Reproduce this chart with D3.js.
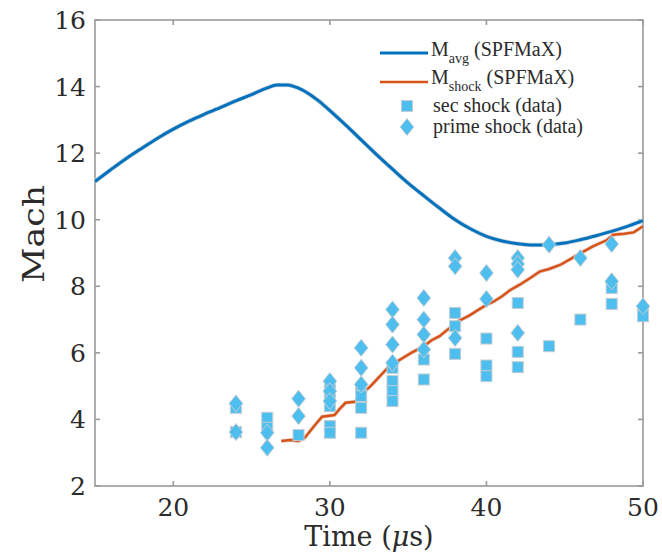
<!DOCTYPE html>
<html>
<head>
<meta charset="utf-8">
<script src="https://cdn.jsdelivr.net/npm/d3@7"></script>
<style>
  html, body { margin: 0; padding: 0; background: #fff; }
  svg { display: block; font-family: "DejaVu Serif", serif; }
</style>
</head>
<body>
<div id="chart"></div>
<script>
// M_avg (SPFMaX): smooth mean Mach number vs time (µs)
const avgTime = [15, 16, 17, 18, 19, 20, 21, 22, 23, 24, 25, 26, 26.6, 27.3, 28, 28.6, 29.2, 30, 31, 32, 33, 34, 35, 36, 37, 38, 39, 40, 41, 42, 43, 44, 45, 46, 47, 48, 49, 50];
const avgMach = [11.15, 11.5, 11.84, 12.15, 12.45, 12.72, 12.96, 13.17, 13.37, 13.57, 13.76, 13.96, 14.05, 14.05, 13.95, 13.8, 13.6, 13.28, 12.85, 12.4, 11.95, 11.52, 11.1, 10.72, 10.35, 10.0, 9.72, 9.5, 9.36, 9.28, 9.24, 9.25, 9.3, 9.4, 9.52, 9.65, 9.8, 9.97];

// M_shock (SPFMaX): jagged shock Mach number
const shockTime = [26.9, 27.5, 28.0, 28.4, 29.0, 29.5, 30.3, 30.6, 31.0, 31.6, 32.1, 32.6, 33.2, 33.8, 34.5, 35.2, 36.0, 36.5, 37.0, 37.5, 38.2, 38.9, 39.5, 40.0, 40.5, 41.0, 41.5, 42.1, 42.8, 43.4, 44.0, 44.7, 45.3, 46.0, 46.8, 47.7, 48.1, 48.8, 49.4, 50.0];
const shockMach = [3.35, 3.38, 3.35, 3.45, 3.8, 4.08, 4.13, 4.3, 4.5, 4.53, 4.79, 5.0, 5.3, 5.6, 5.8, 6.0, 6.2, 6.38, 6.5, 6.69, 6.95, 7.12, 7.3, 7.44, 7.55, 7.7, 7.88, 8.04, 8.25, 8.44, 8.52, 8.64, 8.8, 8.99, 9.2, 9.39, 9.55, 9.58, 9.62, 9.8];

// sec shock (data): squares
const secTime = [24, 24, 26, 26, 28, 30, 30, 30, 30, 30, 32, 32, 32, 32, 34, 34, 34, 34, 36, 36, 38, 38, 38, 40, 40, 40, 42, 42, 42, 44, 46, 48, 48, 50, 50];
const secMach = [4.35, 3.62, 4.05, 3.75, 3.53, 4.95, 4.7, 4.4, 3.8, 3.6, 4.95, 4.7, 4.35, 3.6, 5.55, 5.15, 4.85, 4.55, 5.8, 5.2, 7.2, 6.8, 5.97, 6.43, 5.62, 5.3, 7.5, 6.03, 5.57, 6.2, 7.0, 7.95, 7.47, 7.2, 7.1];

// prime shock (data): diamonds
const primeTime = [24, 24, 26, 26, 28, 28, 30, 30, 30, 32, 32, 32, 34, 34, 34, 34, 36, 36, 36, 36, 38, 38, 38, 40, 40, 42, 42, 42, 42, 44, 46, 48, 48, 50];
const primeMach = [4.48, 3.62, 3.6, 3.15, 4.62, 4.1, 5.15, 4.85, 4.55, 6.15, 5.55, 5.05, 7.3, 6.85, 6.25, 5.7, 7.65, 7.0, 6.55, 6.1, 8.85, 8.6, 6.45, 8.4, 7.62, 8.85, 8.67, 8.5, 6.6, 9.25, 8.85, 9.27, 8.15, 7.4];

const xTicks = [20, 30, 40, 50];
const yTicks = [2, 4, 6, 8, 10, 12, 14, 16];

const W = 662, H = 554;
const plot = { left: 95, right: 643, top: 20, bottom: 486 };

const BLUE = "#0072BD", ORANGE = "#D95319", CYAN = "#4DBEEE";
const AXIS = "#9a9a9a", TEXT = "#2b2b2b", EDGE = "#c3ccd2";

const svg = d3.select("#chart").append("svg")
  .attr("width", W).attr("height", H).attr("viewBox", `0 0 ${W} ${H}`);

const x = d3.scaleLinear().domain([15, 50]).range([plot.left, plot.right]);
const y = d3.scaleLinear().domain([2, 16]).range([plot.bottom, plot.top]);

svg.append("clipPath").attr("id", "clip").append("rect")
  .attr("x", plot.left).attr("y", plot.top)
  .attr("width", plot.right - plot.left).attr("height", plot.bottom - plot.top);

// box + inward ticks on all four sides
const TL = 5;
const axG = svg.append("g").attr("stroke", AXIS).attr("stroke-width", 1.6).attr("fill", "none");
axG.append("rect").attr("x", plot.left).attr("y", plot.top)
  .attr("width", plot.right - plot.left).attr("height", plot.bottom - plot.top);
xTicks.forEach(t => {
  axG.append("line").attr("x1", x(t)).attr("x2", x(t)).attr("y1", plot.bottom).attr("y2", plot.bottom - TL);
  axG.append("line").attr("x1", x(t)).attr("x2", x(t)).attr("y1", plot.top).attr("y2", plot.top + TL);
});
yTicks.forEach(t => {
  axG.append("line").attr("y1", y(t)).attr("y2", y(t)).attr("x1", plot.left).attr("x2", plot.left + TL);
  axG.append("line").attr("y1", y(t)).attr("y2", y(t)).attr("x1", plot.right).attr("x2", plot.right - TL);
});

// tick labels
svg.append("g").selectAll("text").data(xTicks).join("text")
  .attr("x", d => x(d)).attr("y", 516).attr("text-anchor", "middle")
  .attr("font-size", 25).attr("fill", TEXT).text(d => d);
svg.append("g").selectAll("text").data(yTicks).join("text")
  .attr("x", 86).attr("y", d => y(d)).attr("dy", "0.36em").attr("text-anchor", "end")
  .attr("font-size", 25).attr("fill", TEXT).text(d => d);

// axis labels
const xl = svg.append("text").attr("x", (plot.left + plot.right) / 2).attr("y", 546)
  .attr("text-anchor", "middle").attr("font-size", 27).attr("fill", TEXT);
xl.append("tspan").text("Time (");
xl.append("tspan").attr("font-style", "italic").text("\u03bc");
xl.append("tspan").text("s)");
svg.append("text").attr("transform", "translate(44,234) rotate(-90)")
  .attr("text-anchor", "middle").attr("font-size", 30).attr("fill", TEXT)
  .attr("textLength", 98).attr("lengthAdjust", "spacingAndGlyphs").text("Mach");

// lines
const smooth = d3.line().x(d => x(d[0])).y(d => y(d[1])).curve(d3.curveMonotoneX);
const linear = d3.line().x(d => x(d[0])).y(d => y(d[1]));
const lg = svg.append("g").attr("clip-path", "url(#clip)");
const avgPts = d3.zip(avgTime, avgMach);
const shockPts = d3.zip(shockTime, shockMach);
lg.append("path").attr("d", smooth(avgPts)).attr("fill", "none")
  .attr("stroke", "#cfd6dc").attr("stroke-width", 4.5);
lg.append("path").attr("d", smooth(avgPts)).attr("fill", "none")
  .attr("stroke", BLUE).attr("stroke-width", 3);
lg.append("path").attr("d", linear(shockPts)).attr("fill", "none")
  .attr("stroke", "#e3d6cf").attr("stroke-width", 4);
lg.append("path").attr("d", linear(shockPts)).attr("fill", "none")
  .attr("stroke", ORANGE).attr("stroke-width", 2.5);

// markers
const SQ = 11, DW = 6.8, DH = 8.5;
const diamond = `M0,${-DH}L${DW},0L0,${DH}L${-DW},0Z`;
const mg = svg.append("g");
mg.selectAll("rect.sec").data(d3.zip(secTime, secMach)).join("rect").attr("class", "sec")
  .attr("x", d => x(d[0]) - SQ / 2).attr("y", d => y(d[1]) - SQ / 2)
  .attr("width", SQ).attr("height", SQ)
  .attr("fill", CYAN).attr("stroke", EDGE).attr("stroke-width", 1);
mg.selectAll("path.prime").data(d3.zip(primeTime, primeMach)).join("path").attr("class", "prime")
  .attr("transform", d => `translate(${x(d[0])},${y(d[1])})`).attr("d", diamond)
  .attr("fill", CYAN).attr("stroke", EDGE).attr("stroke-width", 1);

// legend (Times-like face)
const leg = svg.append("g").attr("font-family", "'Liberation Serif', 'Times New Roman', serif")
  .attr("font-size", 20).attr("fill", TEXT);
const lx0 = 380, lx1 = 428, tx = 431;
leg.append("line").attr("x1", lx0).attr("x2", lx1).attr("y1", 53).attr("y2", 53)
  .attr("stroke", BLUE).attr("stroke-width", 3);
const t1 = leg.append("text").attr("x", tx).attr("y", 56);
t1.append("tspan").text("M");
t1.append("tspan").attr("font-size", 14).attr("dy", 7).text("avg");
t1.append("tspan").attr("dy", -7).text(" (SPFMaX)");
leg.append("line").attr("x1", lx0).attr("x2", lx1).attr("y1", 82).attr("y2", 82)
  .attr("stroke", ORANGE).attr("stroke-width", 2.5);
const t2 = leg.append("text").attr("x", tx).attr("y", 84);
t2.append("tspan").text("M");
t2.append("tspan").attr("font-size", 14).attr("dy", 7).text("shock");
t2.append("tspan").attr("dy", -7).text(" (SPFMaX)");
leg.append("rect").attr("x", 407 - SQ / 2).attr("y", 106 - SQ / 2).attr("width", SQ).attr("height", SQ)
  .attr("fill", CYAN).attr("stroke", EDGE);
leg.append("text").attr("x", 433).attr("y", 112).text("sec shock (data)");
leg.append("path").attr("transform", "translate(407,127)").attr("d", diamond)
  .attr("fill", CYAN).attr("stroke", EDGE);
leg.append("text").attr("x", 433).attr("y", 133).text("prime shock (data)");
</script>
</body>
</html>
